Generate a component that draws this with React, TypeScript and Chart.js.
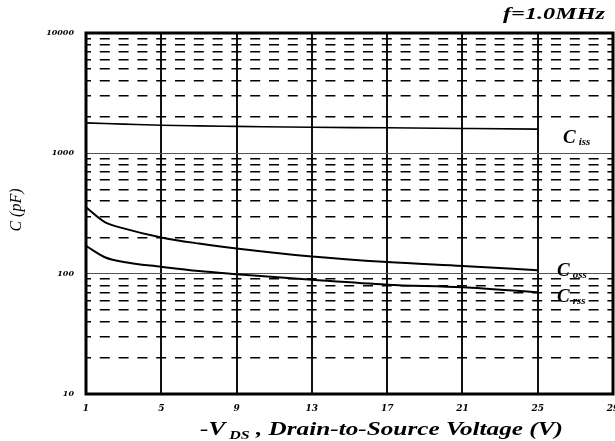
import React, { useEffect, useRef } from 'react';
import { Chart, registerables } from 'chart.js';

Chart.register(...registerables);

const voltage = [1, 2, 3, 5, 7, 9, 13, 17, 21, 25];
const ciss = [1790, 1770, 1750, 1710, 1690, 1675, 1645, 1630, 1610, 1590];
const coss = [356, 268, 238, 200, 178, 162, 139, 125, 116, 107];
const crss = [170, 137, 125, 114, 105, 99, 89, 81, 77, 70];
const xTickValues = [1, 5, 9, 13, 17, 21, 25, 29];
const yTickValues = [
  10, 20, 30, 40, 50, 60, 70, 80, 90,
  100, 200, 300, 400, 500, 600, 700, 800, 900,
  1000, 2000, 3000, 4000, 5000, 6000, 7000, 8000, 9000, 10000,
];
const decadeValues = [10, 100, 1000, 10000];
const titleText = 'f=1.0MHz';
const yTitle = 'C (pF)';
const xTitleParts = ['-V', 'DS', ' , Drain-to-Source Voltage (V)'];
const curveLabels = [
  { main: 'C', sub: 'iss', value: 1590 },
  { main: 'C', sub: 'oss', value: 107 },
  { main: 'C', sub: 'rss', value: 70 },
];

const SERIF = '"Liberation Serif", "DejaVu Serif", serif';
const WIDE = '"DejaVu Serif", serif';

const toPoints = (ys: number[]) => voltage.map((v, i) => ({ x: v, y: ys[i] }));
const isDecade = (v: number) => decadeValues.includes(v);

const annotations = {
  id: 'annotations',
  afterDraw(chart: any) {
    const { ctx, chartArea } = chart;
    const { left, right, top, bottom } = chartArea;
    ctx.save();
    // frame
    ctx.strokeStyle = '#000';
    ctx.lineWidth = 3;
    ctx.setLineDash([]);
    ctx.strokeRect(left, top, right - left, bottom - top);

    ctx.fillStyle = '#000';
    // title, stretched horizontally to the reference width
    ctx.font = `italic bold 16px ${SERIF}`;
    ctx.textAlign = 'left';
    ctx.textBaseline = 'middle';
    {
      const w = ctx.measureText(titleText).width;
      const target = 102;
      ctx.save();
      ctx.translate(605 - target, 15);
      ctx.scale(target / w, 1);
      ctx.fillText(titleText, 0, 0);
      ctx.restore();
    }

    // y title
    ctx.save();
    ctx.translate(17, 210);
    ctx.rotate(-Math.PI / 2);
    ctx.font = `italic 16px ${SERIF}`;
    ctx.textAlign = 'center';
    ctx.textBaseline = 'middle';
    ctx.fillText(yTitle, 0, 0);
    ctx.restore();

    // x title with subscript
    ctx.textAlign = 'left';
    ctx.textBaseline = 'alphabetic';
    const bigFont = `italic bold 19px ${SERIF}`;
    const subFont = `italic bold 12px ${SERIF}`;
    ctx.font = bigFont;
    const w0 = ctx.measureText(xTitleParts[0]).width;
    ctx.font = subFont;
    const w1 = ctx.measureText(xTitleParts[1]).width;
    ctx.font = bigFont;
    const w2 = ctx.measureText(xTitleParts[2]).width;
    const total = w0 + 3 + w1 + w2;
    const targetW = 363;
    ctx.save();
    ctx.translate(200, 435);
    ctx.scale(targetW / total, 1);
    let x = 0;
    ctx.fillText(xTitleParts[0], x, 0);
    x += w0 + 3;
    ctx.font = subFont;
    ctx.fillText(xTitleParts[1], x, 4);
    x += w1;
    ctx.font = bigFont;
    ctx.fillText(xTitleParts[2], x, 0);
    ctx.restore();

    // curve labels
    const yScale = chart.scales.y;
    const offsets = [9, 1, 5];
    const xs = [563, 557, 557];
    curveLabels.forEach((lab, i) => {
      const py = yScale.getPixelForValue(lab.value) + offsets[i];
      ctx.font = `italic bold 19px ${SERIF}`;
      ctx.textBaseline = 'middle';
      ctx.fillText(lab.main, xs[i], py);
      const cw = ctx.measureText(lab.main).width;
      ctx.font = `italic bold 11px ${SERIF}`;
      ctx.fillText(lab.sub, xs[i] + cw + 3, py + 4);
    });
    ctx.restore();
  },
};

export default function App() {
  const canvasRef = useRef<HTMLCanvasElement | null>(null);

  useEffect(() => {
    if (!canvasRef.current) return;
    const lineStyle = {
      borderColor: '#000',
      backgroundColor: '#000',
      pointRadius: 0,
      cubicInterpolationMode: 'monotone' as const,
      fill: false,
    };
    const chart = new Chart(canvasRef.current, {
      type: 'line',
      data: {
        datasets: [
          { label: 'Ciss', data: toPoints(ciss), borderWidth: 1.6, ...lineStyle },
          { label: 'Coss', data: toPoints(coss), borderWidth: 2, ...lineStyle },
          { label: 'Crss', data: toPoints(crss), borderWidth: 2, ...lineStyle },
        ],
      },
      plugins: [annotations],
      options: {
        animation: false,
        responsive: true,
        maintainAspectRatio: false,
        layout: { padding: { top: 33, right: 2, left: 0, bottom: 0 } },
        plugins: {
          legend: { display: false },
          tooltip: { enabled: false },
          title: { display: false },
        },
        scales: {
          x: {
            type: 'linear',
            min: 1,
            max: 29,
            afterBuildTicks: (scale: any) => {
              scale.ticks = xTickValues.map((v) => ({ value: v }));
            },
            afterFit: (scale: any) => {
              scale.height = 47;
              scale.paddingLeft = 0;
              scale.paddingRight = 0;
            },
            ticks: {
              autoSkip: false,
              maxRotation: 0,
              padding: 9,
              color: '#000',
              font: { family: WIDE, size: 9, style: 'italic', weight: 'bold' },
              callback: (v: any) => String(v),
            },
            grid: { color: '#111', lineWidth: 2, drawTicks: false },
            border: { display: false },
          },
          y: {
            type: 'logarithmic',
            min: 10,
            max: 10000,
            afterBuildTicks: (scale: any) => {
              scale.ticks = yTickValues.map((v) => ({ value: v }));
            },
            afterFit: (scale: any) => {
              scale.width = 86;
              scale.paddingTop = 0;
              scale.paddingBottom = 0;
            },
            ticks: {
              autoSkip: false,
              padding: 12,
              color: '#000',
              font: { family: WIDE, size: 8, style: 'italic', weight: 'bold' },
              callback: (v: any) => (isDecade(Number(v)) ? String(v) : ''),
            },
            grid: {
              drawTicks: false,
              color: (ctx: any) => (ctx.tick && isDecade(ctx.tick.value) ? '#555' : '#000'),
              lineWidth: (ctx: any) => (ctx.tick && isDecade(ctx.tick.value) ? 1 : 1.5),
            },
            border: {
              display: false,
              dash: (ctx: any) => (ctx.tick && !isDecade(ctx.tick.value) ? [10, 8.8] : []),
              dashOffset: 5,
            },
          },
        },
      },
    } as any);
    return () => chart.destroy();
  }, []);

  return (
    <div style={{ position: 'absolute', left: 0, top: 0, width: 615, height: 441, background: '#fff' }}>
      <canvas ref={canvasRef} />
    </div>
  );
}
